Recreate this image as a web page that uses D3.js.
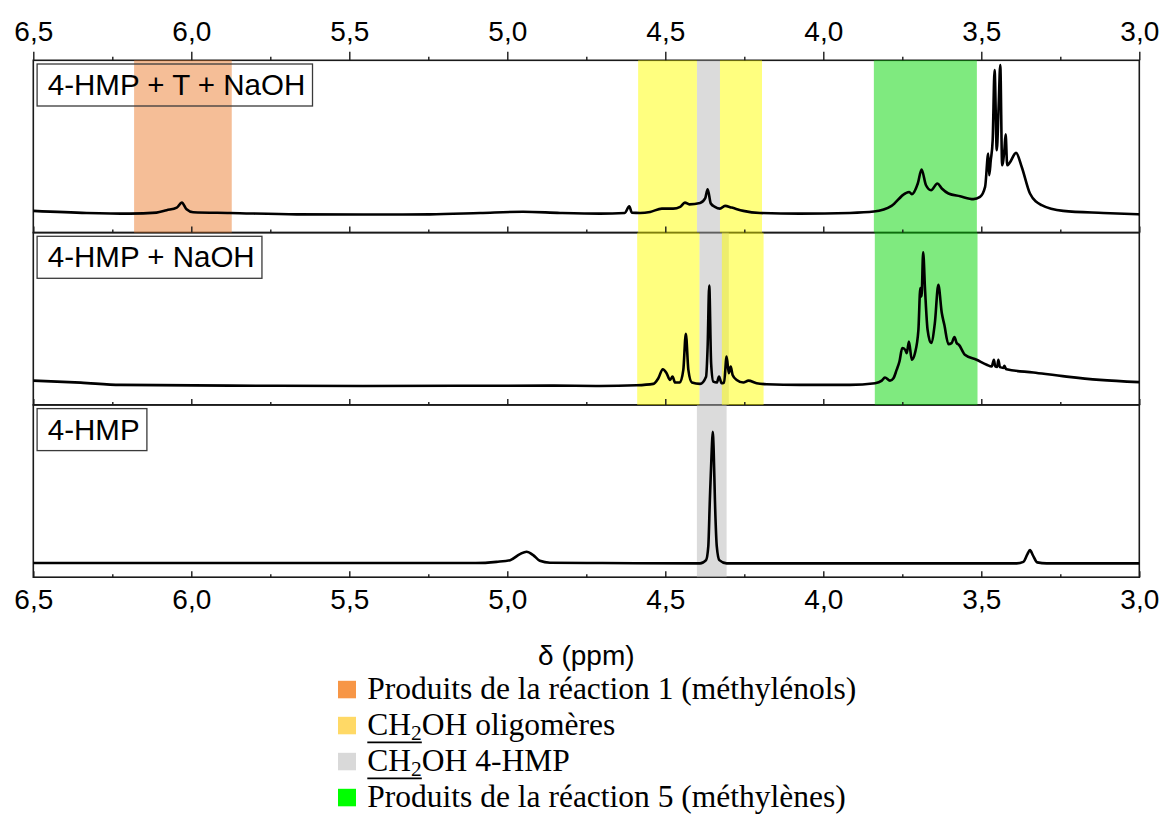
<!DOCTYPE html>
<html>
<head>
<meta charset="utf-8">
<script src="https://cdn.jsdelivr.net/npm/d3@7"></script>
<style>
  html, body { margin: 0; padding: 0; background: #fff; }
  svg { display: block; }
</style>
</head>
<body>
<svg id="chart" width="1162" height="814"></svg>
<script>
// ---------------- DATA ----------------
const tickValues = [6.5, 6.0, 5.5, 5.0, 4.5, 4.0, 3.5, 3.0];
const tickLabels = ["6,5", "6,0", "5,5", "5,0", "4,5", "4,0", "3,5", "3,0"];
const minorTickValues = [6.25, 5.75, 5.25, 4.75, 4.25, 3.75, 3.25];
const xDomain = [6.5, 3.0];
const axisTitle = "δ (ppm)";

const panelLabels = ["4-HMP + T + NaOH", "4-HMP + NaOH", "4-HMP"];

// spectra: [ppm, intensity (a.u., 0-100 of panel)]
const spectrumHmpTNaoh = [
  [6.500,12.6],[6.331,11.4],[6.194,11.0],[6.110,11.6],[6.078,13.0],[6.046,14.5],[6.030,17.4],[6.015,13.5],
  [5.994,11.8],[5.878,11.4],[5.666,10.6],[5.456,10.5],[5.245,10.6],[5.086,11.4],[4.950,12.1],[4.833,11.4],
  [4.707,11.0],[4.628,11.4],[4.614,15.3],[4.606,11.6],[4.580,11.4],[4.548,12.0],[4.511,13.9],[4.475,13.9],
  [4.453,14.9],[4.438,17.4],[4.424,16.4],[4.390,17.2],[4.374,19.8],[4.366,25.2],[4.356,16.9],[4.343,14.9],
  [4.327,13.9],[4.311,15.5],[4.290,14.5],[4.253,12.6],[4.200,11.4],[4.074,11.0],[3.916,11.4],[3.840,12.2],
  [3.784,15.5],[3.741,22.7],[3.728,23.6],[3.720,22.3],[3.701,28.5],[3.689,36.6],[3.675,27.5],[3.659,24.6],
  [3.639,28.5],[3.625,25.6],[3.604,22.7],[3.567,21.1],[3.525,19.4],[3.504,20.7],[3.488,26.5],[3.478,45.9],
  [3.475,33.3],[3.470,42.0],[3.464,53.6],[3.458,94.3],[3.451,47.8],[3.445,73.8],[3.440,97.3],[3.434,39.1],
  [3.427,47.8],[3.423,57.0],[3.418,39.1],[3.411,40.3],[3.390,46.3],[3.372,38.1],[3.346,22.7],[3.309,15.9],
  [3.241,12.6],[3.114,11.4],[3.000,10.6]
];
const spectrumHmpNaoh = [
  [6.500,14.1],[6.350,12.9],[6.224,11.6],[5.878,11.2],[5.457,11.0],[4.865,11.2],[4.707,11.0],[4.591,11.4],
  [4.538,12.2],[4.522,15.5],[4.508,20.7],[4.496,18.4],[4.485,14.5],[4.477,16.4],[4.469,13.0],[4.454,13.0],
  [4.443,20.3],[4.435,41.3],[4.427,20.3],[4.416,13.0],[4.390,12.2],[4.371,16.4],[4.366,33.9],[4.361,69.2],
  [4.355,24.2],[4.348,13.5],[4.337,13.0],[4.330,16.4],[4.322,12.6],[4.314,13.0],[4.306,28.1],[4.299,18.4],
  [4.293,22.3],[4.287,17.4],[4.274,14.5],[4.253,13.0],[4.237,14.1],[4.211,12.6],[4.179,12.0],[4.074,11.6],
  [3.916,11.6],[3.836,12.6],[3.815,14.1],[3.805,15.9],[3.789,14.1],[3.778,15.5],[3.768,20.3],[3.759,25.2],
  [3.750,33.0],[3.741,32.0],[3.736,30.0],[3.729,36.8],[3.720,26.2],[3.710,30.0],[3.699,43.6],[3.693,67.8],
  [3.689,63.0],[3.684,88.5],[3.678,66.8],[3.670,43.6],[3.659,35.9],[3.647,47.5],[3.636,69.7],[3.625,53.3],
  [3.617,46.5],[3.604,35.3],[3.594,35.9],[3.585,39.4],[3.578,35.9],[3.571,34.9],[3.552,29.1],[3.515,26.2],
  [3.483,23.3],[3.467,22.3],[3.460,26.2],[3.456,22.3],[3.450,22.0],[3.446,26.2],[3.441,21.9],[3.430,21.5],
  [3.427,22.7],[3.423,21.2],[3.420,20.7],[3.335,18.8],[3.230,16.4],[3.125,14.5],[3.000,13.2]
];
const spectrumHmp = [
  [6.500,8.2],[5.500,8.2],[5.100,8.2],[5.034,8.9],[4.991,9.9],[4.960,13.4],[4.939,14.8],[4.918,12.8],
  [4.897,9.5],[4.865,8.4],[4.700,8.2],[4.390,8.0],[4.371,9.9],[4.364,17.7],[4.359,44.9],[4.353,74.1],
  [4.350,84.4],[4.347,74.1],[4.343,44.9],[4.337,17.7],[4.329,9.9],[4.306,8.0],[3.700,8.0],[3.388,8.0],
  [3.367,8.9],[3.354,13.4],[3.346,15.7],[3.337,12.8],[3.323,8.6],[3.293,8.0],[3.000,8.0]
];
const spectra = [spectrumHmpTNaoh, spectrumHmpNaoh, spectrumHmp];

// highlighted ranges per panel: [from ppm, to ppm, category]
const bandsPanel1 = [[4.400,4.327,"gray"],[6.181,5.872,"orange"],[4.586,4.400,"yellow"],[4.327,4.194,"yellow"],[3.840,3.514,"green"]];
const bandsPanel2 = [[4.392,4.299,"gray"],[4.589,4.392,"yellow"],[4.321,4.189,"yellow"],[3.837,3.512,"green"]];
const bandsPanel3 = [[4.400,4.306,"gray"]];
const bands = [bandsPanel1, bandsPanel2, bandsPanel3];

const legendKeys = ["orange", "yellow", "gray", "green"];
const legendTexts = [
  ["Produits de la réaction 1 (méthylénols)"],
  ["CH", "2", "OH oligomères"],
  ["CH", "2", "OH 4-HMP"],
  ["Produits de la réaction 5 (méthylènes)"]
];

// ---------------- STYLE ----------------
const bandColor = { orange: "#EC7D30", yellow: "#FFFF00", gray: "#B8B8B8", green: "#00D600" };
const legendColor = { orange: "#F79646", yellow: "#FFD966", gray: "#D9D9D9", green: "#00FF00" };

const W = 1162, H = 814;
const plotLeft = 33.3, plotRight = 1139.3;
const plotTop = 60.3, panelH = 172.3;
const sans = "'Liberation Sans', Arial, sans-serif";
const serif = "'Liberation Serif', 'Times New Roman', serif";

const svg = d3.select("#chart");
const x = d3.scaleLinear().domain(xDomain).range([plotLeft, plotRight]);
const fmt = v => tickLabels[tickValues.indexOf(v)];

const frameG = svg.append("g");
const bandG = svg.append("g");
const axisG = svg.append("g");
const labelG = svg.append("g");
const lineG = svg.append("g");

spectra.forEach((data, i) => {
  const y0 = plotTop + i * panelH;
  const y1 = y0 + panelH;
  const y = d3.scaleLinear().domain([0, 100]).range([y1, y0]);

  // frame
  frameG.append("rect")
    .attr("x", plotLeft).attr("y", y0)
    .attr("width", plotRight - plotLeft).attr("height", panelH)
    .attr("fill", "none").attr("stroke", "#1a1a1a").attr("stroke-width", 1.6);

  // bands
  bandG.selectAll(null).data(bands[i]).enter().append("rect")
    .attr("x", d => x(d[0]))
    .attr("width", d => x(d[1]) - x(d[0]))
    .attr("y", y0).attr("height", panelH)
    .attr("fill", d => bandColor[d[2]])
    .attr("fill-opacity", 0.5);

  // bottom ticks (inward)
  const major = d3.axisBottom(x).tickValues(tickValues)
    .tickSize(-6).tickPadding(12)
    .tickFormat(i === 2 ? fmt : () => "");
  const gB = axisG.append("g").attr("transform", `translate(0,${y1})`).call(major);
  const minor = d3.axisBottom(x).tickValues(minorTickValues).tickSize(-3).tickFormat(() => "");
  const gBm = axisG.append("g").attr("transform", `translate(0,${y1})`).call(minor);
  [gB, gBm].forEach(g => {
    g.select(".domain").remove();
    g.selectAll("line").attr("stroke", "#1a1a1a").attr("stroke-width", 1.4);
    g.selectAll("text").attr("font-family", sans).attr("font-size", 28).attr("fill", "#000");
  });

  // panel label box
  const t = labelG.append("text")
    .attr("x", plotLeft + 14.5).attr("y", y0 + 34.7)
    .attr("font-family", sans).attr("font-size", 29.5).attr("fill", "#000")
    .text(panelLabels[i]);
  const tw = t.node().getComputedTextLength();
  labelG.insert("rect", "text")
    .attr("x", plotLeft + 3.8).attr("y", y0 + 3.7)
    .attr("width", tw + 18).attr("height", 42)
    .attr("fill", "none").attr("stroke", "#3a3a3a").attr("stroke-width", 1.3);

  // spectrum
  const line = d3.line().x(d => x(d[0])).y(d => y(d[1])).curve(d3.curveMonotoneX);
  lineG.append("path").datum(data)
    .attr("d", line).attr("fill", "none")
    .attr("stroke", "#000").attr("stroke-width", 2.6).attr("stroke-linejoin", "round");
});

// top axis (outward)
const topMajor = d3.axisTop(x).tickValues(tickValues).tickSize(8.5).tickPadding(11).tickFormat(fmt);
const gT = axisG.append("g").attr("transform", `translate(0,${plotTop})`).call(topMajor);
const topMinor = d3.axisTop(x).tickValues(minorTickValues).tickSize(3.5).tickFormat(() => "");
const gTm = axisG.append("g").attr("transform", `translate(0,${plotTop})`).call(topMinor);
[gT, gTm].forEach(g => {
  g.select(".domain").remove();
  g.selectAll("line").attr("stroke", "#1a1a1a").attr("stroke-width", 1.4);
  g.selectAll("text").attr("font-family", sans).attr("font-size", 28).attr("fill", "#000");
});

// axis title
svg.append("text")
  .attr("x", (plotLeft + plotRight) / 2).attr("y", 664.5)
  .attr("text-anchor", "middle")
  .attr("font-family", sans).attr("font-size", 28).attr("fill", "#000")
  .text(axisTitle);

// legend
const legG = svg.append("g");
const legX = 338, legTextX = 367.3, legBase0 = 698.8, legStep = 36;
legendKeys.forEach((k, i) => {
  const base = legBase0 + i * legStep;
  legG.append("rect")
    .attr("x", legX).attr("y", base - 18).attr("width", 18).attr("height", 17.5)
    .attr("fill", legendColor[k]);
  const parts = legendTexts[i];
  const txt = legG.append("text")
    .attr("x", legTextX).attr("y", base)
    .attr("font-family", serif).attr("font-size", 31.5).attr("fill", "#000");
  if (parts.length === 1) {
    txt.text(parts[0]);
  } else {
    const a = txt.append("tspan").text(parts[0]);
    const b = txt.append("tspan").attr("font-size", 21.5).attr("dy", 5).text(parts[1]);
    txt.append("tspan").attr("dy", -5).text(parts[2]);
    const uw = a.node().getComputedTextLength() + b.node().getComputedTextLength();
    legG.append("line")
      .attr("x1", legTextX).attr("x2", legTextX + uw)
      .attr("y1", base + 7.5).attr("y2", base + 7.5)
      .attr("stroke", "#000").attr("stroke-width", 1.8);
  }
});
</script>
</body>
</html>
